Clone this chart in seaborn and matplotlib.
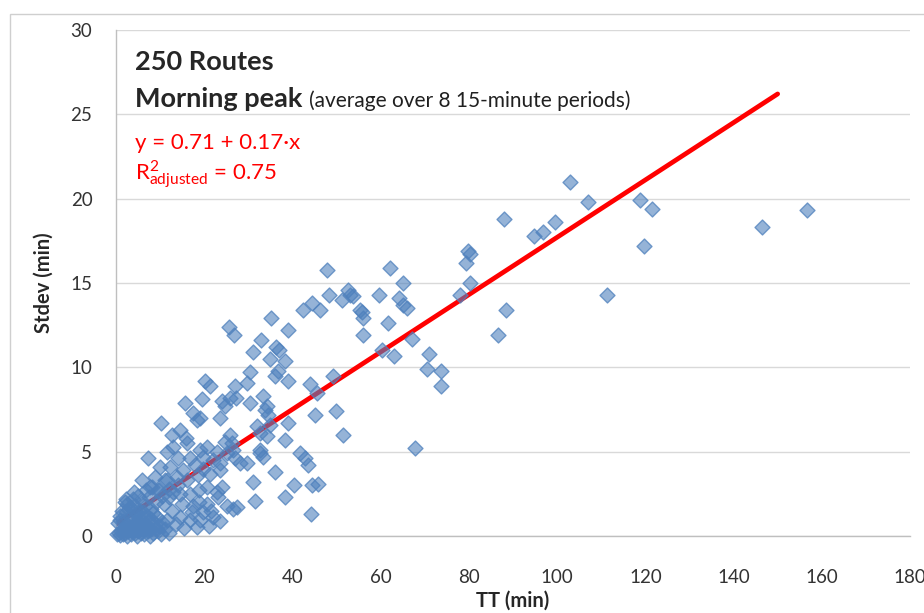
import matplotlib
matplotlib.use("Agg")
import matplotlib.pyplot as plt
import pandas as pd
import seaborn as sns
from matplotlib.patches import Rectangle

# Travel time (min) and its standard deviation (min) per route
tt = [
    # long routes
    102.9, 107.0, 118.9, 121.5, 119.8, 111.2, 146.4, 156.6, 99.6, 96.8, 94.8,
    # 55 - 90 min
    62.1, 65.0, 59.7, 64.2, 65.0, 65.9, 55.7, 56.1, 61.7, 55.9, 67.0, 60.2, 63.1,
    71.0, 70.4, 73.7, 73.7, 67.8, 79.4, 80.3, 79.7, 80.3, 77.9, 88.4, 86.5, 88.0,
    # 40 - 55 min
    47.8, 48.4, 44.4, 42.5, 46.3, 51.2, 52.7, 53.1, 53.8, 55.3,
    # 19 - 52 min
    25.7, 26.8, 35.1, 39.1, 32.9, 31.1, 36.3, 37.0, 34.9, 38.3,
    36.8, 36.1, 30.4, 29.6, 39.1, 44.0, 49.1, 45.5, 20.2, 21.3,
    27.0, 25.9, 27.2, 24.0, 24.7, 19.4, 30.4, 33.3, 34.2, 34.5,
    33.8, 45.1, 49.9, 23.6, 19.0, 31.9, 32.7, 34.2, 34.9, 39.1,
    38.3, 51.4, 25.9, 24.7, 26.2, 20.6, 19.0, 22.8, 25.1, 32.7,
    33.4, 32.7, 19.8, 22.1, 23.6, 27.0, 29.6, 41.7, 42.9, 43.6,
    36.1, 19.8, 21.3, 23.6, 28.1, 31.1, 40.4, 44.4, 45.9, 38.3,
    31.4, 23.2, 22.8, 20.6, 20.6, 26.6, 27.4, 44.2, 22.1, 19.0,
    # under 20 min
    15.6, 17.5, 18.3, 10.2, 12.6, 14.5, 15.9, 16.0, 11.5, 7.3,
    10.0, 12.2, 14.1, 16.8, 26.6, 6.0, 7.7, 8.8, 11.5, 13.8,
    16.0, 14.5, 16.8, 18.8, 25.1, 12.6, 14.5, 16.8, 18.3, 10.4,
    11.5, 2.0, 3.2, 4.7, 6.2, 8.5, 0.9, 13.0, 17.8, 15.2,
    18.5, 9.5, 12.0, 10.8, 17.5, 13.5, 15.5, 19.8, 21.0, 23.5,
    15.0, 17.2, 18.9, 21.6, 24.0,
    # short routes, dense cluster
    0.3, 0.6, 0.9, 1.2, 1.5, 1.8, 2.1, 2.4, 2.7, 3.0, 3.3, 3.6, 3.9, 4.2, 4.5, 4.8,
    5.1, 5.4, 5.7, 6.0, 6.4, 6.8, 7.2, 7.6, 8.0, 8.5, 9.0, 9.5, 10.2, 11.0, 12.0,
    0.5, 1.0, 1.6, 2.2, 2.6, 3.1, 3.5, 4.0, 4.4, 5.0, 5.5, 6.0, 6.6, 7.0, 7.5,
    8.0, 8.8, 9.4, 10.0,
    1.3, 2.5, 3.0, 3.8, 4.3, 5.0, 5.3, 5.8, 6.5, 6.8, 7.4, 8.0, 8.2, 9.0, 9.8,
    10.5, 11.2, 12.0, 13.0, 14.0, 4.0, 2.2,
]
stdev = [
    21.0, 19.8, 19.9, 19.4, 17.2, 14.3, 18.3, 19.3, 18.6, 18.0, 17.8,
    15.9, 15.0, 14.3, 14.1, 13.7, 13.5, 13.3, 12.9, 12.6, 11.9, 11.7, 11.0, 10.7,
    10.8, 9.9, 9.8, 8.9, 5.2, 16.2, 16.7, 16.9, 15.0, 14.3, 13.4, 11.9, 18.8,
    15.8, 14.3, 13.8, 13.4, 13.4, 14.0, 14.6, 14.3, 14.2, 13.4,
    12.4, 11.9, 12.9, 12.2, 11.6, 10.9, 11.2, 11.0, 10.5, 10.4,
    9.8, 9.5, 9.7, 9.1, 9.2, 9.0, 9.5, 8.5, 9.2, 8.9,
    8.9, 8.2, 8.2, 8.0, 7.7, 8.1, 7.9, 8.3, 7.7, 7.2,
    7.5, 7.2, 7.4, 7.0, 7.0, 6.5, 6.1, 5.9, 6.6, 6.7,
    5.7, 6.0, 6.0, 5.6, 5.5, 5.3, 5.1, 5.0, 4.9, 5.1,
    4.7, 4.9, 4.7, 4.5, 4.3, 4.6, 4.3, 4.9, 4.6, 4.2,
    3.8, 4.0, 3.7, 3.9, 4.3, 3.2, 3.0, 3.0, 3.1, 2.3,
    2.1, 2.3, 2.6, 2.9, 1.9, 1.6, 1.7, 1.3, 1.1, 0.95,
    7.9, 7.3, 6.9, 6.7, 6.0, 6.3, 5.8, 5.5, 5.0, 4.6,
    4.1, 4.1, 4.6, 4.6, 5.1, 3.3, 2.9, 3.5, 3.3, 3.5,
    3.3, 2.5, 2.5, 2.7, 1.8, 1.5, 1.1, 0.95, 0.55, 0.85,
    0.95, 2.0, 1.7, 1.35, 1.45, 1.35, 0.95, 5.3, 4.2, 3.9,
    3.6, 2.7, 2.3, 1.9, 1.8, 0.7, 0.5, 1.4, 0.6, 0.9,
    1.9, 1.4, 2.0, 1.5, 2.9,
    0.1, 0.2, 0.05, 0.3, 0.1, 0.4, 0.2, 0.0, 0.3, 0.5, 0.1, 0.3, 0.6, 0.2, 0.4, 0.0,
    0.3, 0.6, 0.2, 0.4, 0.1, 0.5, 0.3, 0.0, 0.4, 0.2, 0.5, 0.3, 0.1, 0.4, 0.2,
    0.8, 1.2, 0.9, 1.4, 0.7, 1.1, 0.9, 1.5, 0.8, 1.1, 0.8, 1.0, 0.7, 1.2, 0.9,
    1.0, 0.7, 1.1, 0.6,
    1.5, 1.9, 1.6, 2.2, 1.8, 2.4, 1.5, 2.1, 1.8, 2.7, 2.3, 1.6, 2.9, 2.0, 2.7,
    2.4, 3.3, 2.8, 2.6, 3.0, 2.6, 2.2,
]

# Linear fit shown on the chart
intercept = 0.71
slope = 0.17
fit_range = [0, 150]

x_ticks = [0, 20, 40, 60, 80, 100, 120, 140, 160, 180]
y_ticks = [0, 5, 10, 15, 20, 25, 30]

sns.set_style("white")
plt.rcParams['font.family'] = ['Lato', 'DejaVu Sans']
plt.rcParams['mathtext.fontset'] = 'custom'
plt.rcParams['mathtext.rm'] = 'Lato'
plt.rcParams['mathtext.it'] = 'Lato'
plt.rcParams['mathtext.bf'] = 'Lato:bold'

df = pd.DataFrame({'TT': tt, 'Stdev': stdev})
fit = pd.DataFrame({'TT': fit_range,
                    'Stdev': [intercept + slope * x for x in fit_range]})

W, H = 924, 613
fig = plt.figure(figsize=(W / 100, H / 100), dpi=100)
ax = fig.add_axes([116 / W, (H - 536) / H, 794 / W, 506 / H])

blue = (0.31, 0.506, 0.741)
sns.lineplot(data=fit, x='TT', y='Stdev', color='#ff0000', linewidth=3.4,
             ax=ax, zorder=2)
sns.scatterplot(data=df, x='TT', y='Stdev', marker='D', s=58,
                facecolor=blue + (0.6,), edgecolor=blue + (0.75,),
                linewidth=1.0, ax=ax, zorder=3, clip_on=False)

ax.set_xlim(0, 180)
ax.set_ylim(0, 30)
ax.set_xticks(x_ticks)
ax.set_yticks(y_ticks)
ax.yaxis.grid(True, color='#d9d9d9', linewidth=1)
ax.set_axisbelow(True)
for side in ['top', 'right']:
    ax.spines[side].set_visible(False)
for side in ['left', 'bottom']:
    ax.spines[side].set_color('#bfbfbf')
    ax.spines[side].set_linewidth(1)
ax.tick_params(axis='both', direction='out', length=6, width=1,
               color='#bfbfbf', labelsize=13.5, labelcolor='#333333')
ax.tick_params(axis='y', pad=11)
ax.tick_params(axis='x', pad=18)
ax.set_xlabel('TT (min)', fontsize=14.5, fontweight='bold', labelpad=3)
ax.set_ylabel('Stdev (min)', fontsize=14.5, fontweight='bold', labelpad=12)

# Titles and fit info in the upper left corner
fig.text(135 / W, 1 - 70 / H, '250 Routes', fontsize=19.5, fontweight='bold',
         va='baseline')
t = fig.text(135 / W, 1 - 107 / H, 'Morning peak', fontsize=19.5,
             fontweight='bold', va='baseline')
fig.canvas.draw()
bb = t.get_window_extent()
fig.text((bb.x1 + 7) / W, 1 - 107 / H, '(average over 8 15-minute periods)',
         fontsize=15, va='baseline', color='#202020')
fig.text(135 / W, 1 - 149 / H, 'y = 0.71 + 0.17\u00b7x', fontsize=16,
         color='#ff0000', va='baseline')
fig.text(135 / W, 1 - 180 / H, r'R$^{2}_{\mathrm{adjusted}}$ = 0.75',
         fontsize=16, color='#ff0000', va='baseline')

# Chart area border (cropped on the right and bottom)
fig.add_artist(Rectangle((10 / W, -0.1), 1.2, 1.1 - 14 / H,
                         transform=fig.transFigure, fill=False,
                         edgecolor='#cfcfcf', linewidth=1))

fig.savefig('out.png', dpi=100)
